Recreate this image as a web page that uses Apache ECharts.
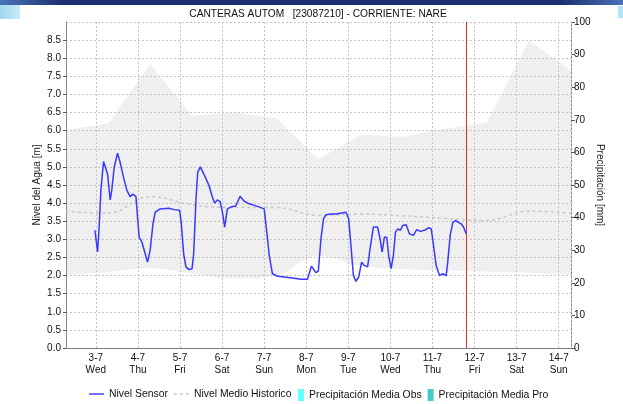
<!DOCTYPE html>
<html>
<head>
<meta charset="utf-8">
<script src="https://cdn.jsdelivr.net/npm/echarts@6/dist/echarts.min.js"></script>
<style>
  html, body { margin: 0; padding: 0; background: #fff; }
  #chart { width: 623px; height: 404px; }
</style>
</head>
<body>
<div id="chart"></div>
<script>
// Hours are counted from 2024-07-03 00:00 (local time).
const baseDate = new Date(2024, 6, 3, 0, 0, 0).getTime();
const axisStartHour = -17;   // 2 Jul 07:00
const axisEndHour = 271;     // 14 Jul 07:00
const nowHour = 211.5;       // current time marker

const weekdayNames = ['Sun', 'Mon', 'Tue', 'Wed', 'Thu', 'Fri', 'Sat'];

// Historical envelope and mean level, one value per day at 07:00
const bandHours = [-17, 7, 31, 55, 79, 103, 127, 151, 175, 199, 223, 247, 271];
const bandUpper = [6.02, 6.2, 7.83, 6.41, 6.5, 6.34, 5.21, 5.89, 5.83, 6.05, 6.22, 8.49, 7.66];
const bandLower = [2.02, 2.1, 2.2, 2.05, 1.92, 2.0, 2.55, 2.27, 2.18, 2.14, 2.11, 2.08, 2.03];
const histMean  = [3.78, 3.72, 4.18, 3.95, 3.88, 3.88, 3.66, 3.7, 3.65, 3.58, 3.52, 3.78, 3.72];

// Sensor water level [m]
const sensorHours = [
  -0.5, 1.0, 1.9, 2.9, 4.4, 5.3, 6.7, 8.2, 9.1, 10.5, 12.4, 13.9, 15.8, 17.7, 19.6, 21.1, 22.9,
  23.8, 24.7, 26.3, 27.6, 29.5, 31.0, 32.6, 33.9, 36.7, 41.5, 44.7, 47.8, 48.7, 50.1, 51.4, 53.0,
  54.9, 55.8, 57.1, 58.1, 59.6, 62.5, 64.6, 66.5, 67.8, 69.3, 70.9, 72.2, 73.5, 75.0, 77.0, 79.8,
  82.3, 84.2, 87.4, 92.2, 96.0, 97.5, 98.9, 100.7, 103.6, 107.4, 112.2, 117.0, 120.7, 123.0, 125.5,
  126.9, 128.4, 129.9, 131.3, 134.1, 137.0, 142.7, 144.2, 145.5, 146.9, 148.4, 149.9, 151.6, 153.1,
  155.0, 156.4, 158.3, 160.7, 162.1, 163.3, 164.6, 165.9, 167.0, 168.4, 169.7, 170.9, 172.2, 173.7,
  175.0, 177.0, 178.9, 181.1, 183.0, 185.0, 187.4, 189.9, 191.3, 192.6, 194.1, 196.0, 197.9, 199.8,
  200.7, 202.1, 203.6, 205.1, 207.0, 208.3, 209.7, 211.3
];
const sensorLevel = [
  3.25, 2.65, 3.34, 4.35, 5.15, 5.15, 4.8, 4.09, 4.35, 4.99, 5.38, 5.12, 4.71, 4.35, 4.18, 4.25, 4.18,
  3.61, 3.06, 2.92, 2.7, 2.37, 2.7, 3.43, 3.75, 3.84, 3.86, 3.82, 3.8, 3.47, 2.6, 2.24, 2.17,
  2.19, 2.6, 4.07, 4.85, 5.0, 4.71, 4.48, 4.16, 4.0, 4.09, 4.04, 3.75, 3.34, 3.84, 3.89, 3.92,
  4.19, 4.07, 3.98, 3.91, 3.84, 3.2, 2.56, 2.05, 1.98, 1.96, 1.93, 1.9, 1.9, 2.26, 2.08,
  2.12, 3.02, 3.57, 3.68, 3.7, 3.7, 3.75, 3.57, 2.83, 2.0, 1.84, 1.96, 2.37, 2.28,
  2.24, 2.74, 3.34, 3.34, 3.02, 2.65, 3.06, 3.06, 2.56, 2.19, 2.56, 3.2, 3.29, 3.25,
  3.38, 3.4, 3.15, 3.11, 3.27, 3.22, 3.25, 3.32, 3.29, 2.83, 2.28, 2.0, 2.05, 2.0,
  2.37, 3.11, 3.47, 3.52, 3.46, 3.43, 3.34, 3.15
];

// Precipitation series (no values in this period)
const precipObs = [];
const precipPro = [];

const toTime = h => baseDate + h * 3600 * 1000;
const pairs = (hours, values) => hours.map((h, i) => [toTime(h), values[i]]);

const FONT = '"Liberation Sans", Arial, sans-serif';
const gridLine = { show: true, lineStyle: { color: '#c4c4c4', type: [2, 2], width: 1 } };
const solidIcon = 'path://M0,0h16v1.5h-16z';
const dashIcon = 'path://M0,0h3v1.5h-3zM6.5,0h3v1.5h-3zM13,0h3v1.5h-3z';
const legendText = { fontFamily: FONT, fontSize: 10.4, color: '#111' };

const chart = echarts.init(document.getElementById('chart'), null, { renderer: 'canvas' });
chart.setOption({
  animation: false,
  backgroundColor: '#fff',
  textStyle: { fontFamily: FONT },
  title: {
    text: 'CANTERAS AUTOM   [23087210] - CORRIENTE: NARE',
    left: 318, top: 9, textAlign: 'center', padding: 0,
    textStyle: { fontFamily: FONT, fontSize: 10.2, fontWeight: 'normal', color: '#111' }
  },
  graphic: [
    { type: 'rect', left: 0, top: 0, z: 100, shape: { width: 623, height: 5 },
      style: { fill: new echarts.graphic.LinearGradient(0, 0, 1, 0, [
        { offset: 0, color: '#4a74b8' }, { offset: 0.1, color: '#1c2f6e' },
        { offset: 0.9, color: '#1c2f6e' }, { offset: 1, color: '#4a74b8' }]) } },
    { type: 'rect', left: 0, top: 5, z: 100, shape: { width: 20, height: 14 },
      style: { fill: new echarts.graphic.LinearGradient(0, 0, 1, 0, [
        { offset: 0, color: '#9fd6ee' }, { offset: 1, color: '#c8ecfa' }]) } },
    { type: 'rect', left: 618, top: 6, z: 100, shape: { width: 5, height: 12 },
      style: { fill: '#aee6f6' } }
  ],
  legend: [
    {
      top: 389, left: 89, padding: 0,
      itemWidth: 15, itemHeight: 12, itemGap: 6,
      textStyle: legendText,
      data: [
        { name: 'Nivel Sensor', icon: solidIcon },
        { name: 'Nivel Medio Historico', icon: dashIcon }
      ]
    },
    {
      top: 389, left: 298, padding: 0,
      itemWidth: 6, itemHeight: 12, itemGap: 6,
      textStyle: legendText,
      data: [
        { name: 'Precipitación Media Obs', icon: 'rect' },
        { name: 'Precipitación Media Pro', icon: 'rect' }
      ]
    }
  ],
  grid: { left: 66, right: 52, top: 22, bottom: 56, containLabel: false },
  xAxis: [
    {
      type: 'time',
      min: toTime(axisStartHour), max: toTime(axisEndHour),
      minInterval: 24 * 3600 * 1000, maxInterval: 24 * 3600 * 1000,
      z: 3,
      axisLine: { show: true, lineStyle: { color: '#777', type: [1, 1], width: 1 } },
      axisTick: { show: false },
      splitLine: gridLine,
      axisLabel: {
        color: '#111', fontSize: 10, fontFamily: FONT, lineHeight: 12, margin: 4,
        showMinLabel: false, showMaxLabel: false,
        formatter: v => {
          const d = new Date(v);
          return d.getDate() + '-' + (d.getMonth() + 1) + '\n' + weekdayNames[d.getDay()];
        }
      }
    },
    {
      type: 'time', position: 'top',
      min: toTime(axisStartHour), max: toTime(axisEndHour),
      axisLine: { show: true, lineStyle: { color: '#8a8a8a', width: 1 } },
      axisTick: { show: false }, axisLabel: { show: false }, splitLine: { show: false }
    }
  ],
  yAxis: [
    {
      type: 'value', min: 0, max: 9, interval: 0.5, z: 3,
      name: 'Nivel del Agua [m]', nameLocation: 'middle', nameGap: 24, nameMoveOverlap: false,
      nameTextStyle: { fontFamily: FONT, fontSize: 10, color: '#222' },
      axisLine: { show: true, lineStyle: { color: '#8a8a8a' } },
      axisTick: { show: true, length: 3, lineStyle: { color: '#555' } },
      axisLabel: { color: '#111', fontSize: 10, fontFamily: FONT, margin: 5, showMaxLabel: false,
        formatter: v => v.toFixed(1) },
      splitLine: gridLine
    },
    {
      type: 'value', min: 0, max: 100, interval: 10, position: 'right',
      name: 'Precipitación [mm]', nameLocation: 'middle', nameGap: 24, nameRotate: -90,
      nameMoveOverlap: false,
      nameTextStyle: { fontFamily: FONT, fontSize: 10, color: '#222' },
      axisLine: { show: true, lineStyle: { color: '#8a8a8a' } },
      axisTick: { show: true, length: 4, lineStyle: { color: '#555' } },
      axisLabel: { color: '#111', fontSize: 10, fontFamily: FONT, margin: 3 },
      splitLine: { show: false }
    }
  ],
  series: [
    {
      name: 'Banda superior', type: 'line', z: 1, silent: true,
      data: pairs(bandHours, bandUpper),
      symbol: 'none', lineStyle: { width: 0 },
      areaStyle: { color: '#efefef', opacity: 1, origin: 'start' }
    },
    {
      name: 'Banda inferior', type: 'line', z: 2, silent: true, smooth: 0.4,
      data: pairs(bandHours, bandLower),
      symbol: 'none', lineStyle: { width: 0 },
      areaStyle: { color: '#ffffff', opacity: 1, origin: 'start' }
    },
    {
      name: 'Nivel Medio Historico', type: 'line', z: 4, smooth: 0.4,
      data: pairs(bandHours, histMean),
      symbol: 'none', color: '#c8c8c8',
      lineStyle: { color: '#c8c8c8', width: 1.5, type: [3, 3] }
    },
    {
      name: 'Nivel Sensor', type: 'line', z: 5,
      data: pairs(sensorHours, sensorLevel),
      symbol: 'none', color: '#3838ff',
      lineStyle: { color: '#3838ff', width: 1.5 },
      markLine: {
        silent: true, symbol: 'none', animation: false,
        label: { show: false },
        lineStyle: { color: '#e03030', width: 1, type: 'solid' },
        data: [{ xAxis: toTime(nowHour) }]
      }
    },
    {
      name: 'Precipitación Media Obs', type: 'line', yAxisIndex: 1,
      symbol: 'none', color: '#66ffff', data: precipObs
    },
    {
      name: 'Precipitación Media Pro', type: 'line', yAxisIndex: 1,
      symbol: 'none', color: '#44c8c8', data: precipPro
    }
  ]
});
</script>
</body>
</html>
